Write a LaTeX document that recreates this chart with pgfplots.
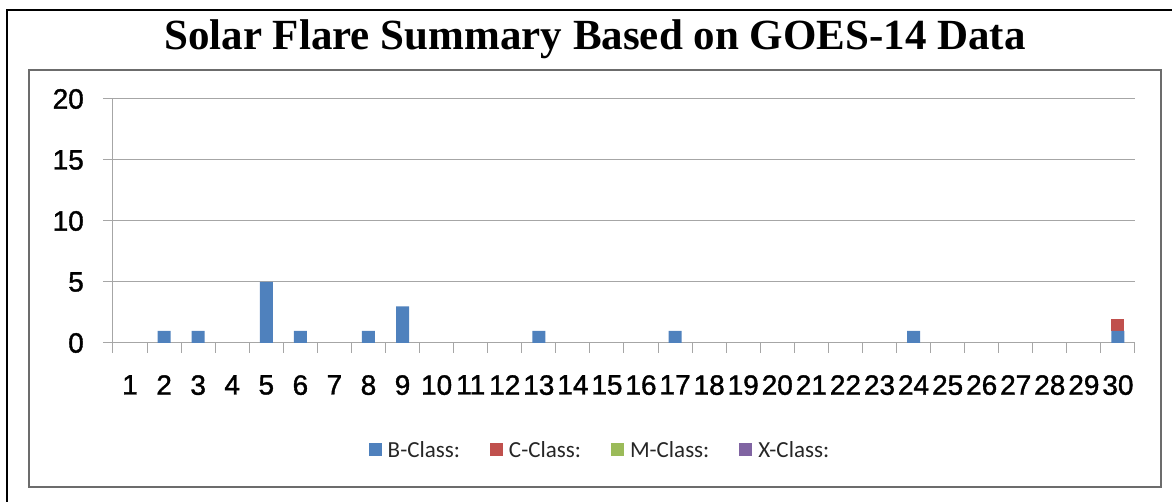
\documentclass[border=0pt]{standalone}
\usepackage{pgfplots}
\pgfplotsset{compat=1.18}
\usepackage{fontspec}
\setmainfont{Liberation Serif}
\setsansfont{Liberation Sans}
\newfontfamily\legfont{Carlito}
\newfontfamily\tickfont{Liberation Sans}[FakeBold=1.3]
\definecolor{bcls}{HTML}{4F81BD}
\definecolor{ccls}{HTML}{C0504D}
\definecolor{mcls}{HTML}{9BBB59}
\definecolor{xcls}{HTML}{8064A2}
\definecolor{gridg}{HTML}{A6A6A6}
\begin{document}
\begin{tikzpicture}[x=1pt,y=1pt]
\useasboundingbox (-113,-159) rectangle (1059,343);
% outer frame (left and top only visible)
\draw[black,line width=2.2pt] (-106,-160) -- (-106,333) -- (1060,333);
% chart area box
\draw[gray!85!black,line width=2.5pt] (-84,-144) rectangle (1048,273);
\node[anchor=base,font=\fontsize{43}{48}\selectfont\bfseries] at (482,293) {Solar Flare Summary Based on GOES-14 Data};
\begin{axis}[
  scale only axis,
  width=1022pt,height=244pt,
  xmin=0.5,xmax=30.5,ymin=0,ymax=20,
  axis lines=left,
  axis line style={-,gridg,line width=1pt},
  ybar stacked,
  bar width=13pt,
  ytick={0,5,10,15,20},
  ymajorgrids,
  grid style={gridg,line width=1pt},
  major tick length=10pt,
  tick align=outside,
  tick style={gridg,line width=1pt},
  xtick={0.5,1.5,...,30.5},
  xticklabels={},
  extra x ticks={1,2,...,30},
  extra x tick labels={1,2,3,4,5,6,7,8,9,10,11,12,13,14,15,16,17,18,19,20,21,22,23,24,25,26,27,28,29,30},
  extra x tick style={major tick length=0pt,tick style={draw=none}},
  /pgf/number format/assume math mode=true,
  ticklabel style={font=\fontsize{28}{32}\selectfont\tickfont},
  xticklabel style={yshift=-32pt,inner sep=0pt,anchor=north},
  yticklabel style={xshift=-19pt,inner sep=0pt,anchor=east},
  legend columns=4,
  legend style={draw=none,fill=none,at={(0.4765,-0.4385)},anchor=center,
    font=\fontsize{23}{27}\selectfont\legfont,text=black!85,
    /tikz/every even column/.append style={column sep=28pt},
    /tikz/every odd column/.append style={column sep=4pt}},
  legend image code/.code={\fill[#1,draw=none] (0pt,-6.5pt) rectangle (13pt,6.5pt);},
]
\addplot[fill=bcls,draw=none] coordinates {(1,0)(2,1)(3,1)(4,0)(5,5)(6,1)(7,0)(8,1)(9,3)(10,0)(11,0)(12,0)(13,1)(14,0)(15,0)(16,0)(17,1)(18,0)(19,0)(20,0)(21,0)(22,0)(23,0)(24,1)(25,0)(26,0)(27,0)(28,0)(29,0)(30,1)};
\addplot[fill=ccls,draw=none] coordinates {(1,0)(2,0)(3,0)(4,0)(5,0)(6,0)(7,0)(8,0)(9,0)(10,0)(11,0)(12,0)(13,0)(14,0)(15,0)(16,0)(17,0)(18,0)(19,0)(20,0)(21,0)(22,0)(23,0)(24,0)(25,0)(26,0)(27,0)(28,0)(29,0)(30,1)};
\addplot[fill=mcls,draw=none] coordinates {(1,0)(2,0)(3,0)(4,0)(5,0)(6,0)(7,0)(8,0)(9,0)(10,0)(11,0)(12,0)(13,0)(14,0)(15,0)(16,0)(17,0)(18,0)(19,0)(20,0)(21,0)(22,0)(23,0)(24,0)(25,0)(26,0)(27,0)(28,0)(29,0)(30,0)};
\addplot[fill=xcls,draw=none] coordinates {(1,0)(2,0)(3,0)(4,0)(5,0)(6,0)(7,0)(8,0)(9,0)(10,0)(11,0)(12,0)(13,0)(14,0)(15,0)(16,0)(17,0)(18,0)(19,0)(20,0)(21,0)(22,0)(23,0)(24,0)(25,0)(26,0)(27,0)(28,0)(29,0)(30,0)};
\legend{B-Class:,C-Class:,M-Class:,X-Class:}
\end{axis}
\end{tikzpicture}
\end{document}
